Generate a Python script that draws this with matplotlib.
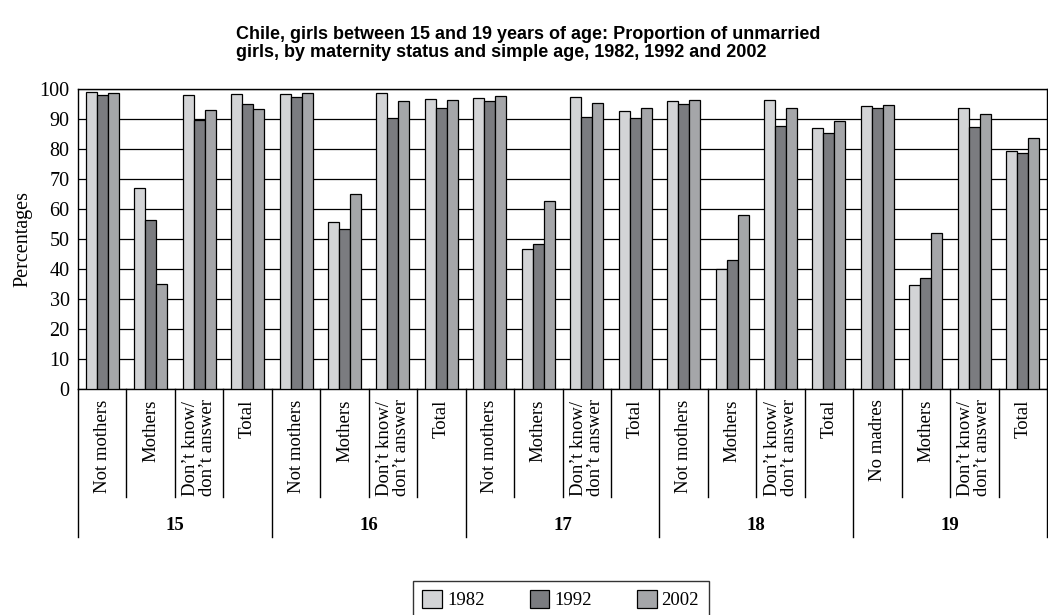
import numpy as np
import matplotlib
matplotlib.use("Agg")
import matplotlib.pyplot as plt
from matplotlib.patches import Patch

ages = ["15", "16", "17", "18", "19"]
statuses = [
    ["Not mothers", "Mothers", "Don\u2019t know/\ndon\u2019t answer", "Total"],
    ["Not mothers", "Mothers", "Don\u2019t know/\ndon\u2019t answer", "Total"],
    ["Not mothers", "Mothers", "Don\u2019t know/\ndon\u2019t answer", "Total"],
    ["Not mothers", "Mothers", "Don\u2019t know/\ndon\u2019t answer", "Total"],
    ["No madres", "Mothers", "Don\u2019t know/\ndon\u2019t answer", "Total"],
]
years = ["1982", "1992", "2002"]

y1982 = [99.1, 66.9, 97.9, 98.2,
         98.4, 55.7, 98.8, 96.7,
         97.1, 46.7, 97.4, 92.7,
         95.9, 40.1, 96.2, 87.1,
         94.2, 34.8, 93.6, 79.2]
y1992 = [97.9, 56.4, 89.7, 95.1,
         97.3, 53.3, 90.4, 93.8,
         96.1, 48.4, 90.8, 90.3,
         94.9, 43.0, 87.8, 85.2,
         93.6, 36.9, 87.3, 78.7]
y2002 = [98.8, 34.9, 93.1, 93.2,
         98.6, 65.1, 96.1, 96.3,
         97.8, 62.8, 95.4, 93.7,
         96.4, 57.9, 93.8, 89.4,
         94.7, 52.0, 91.6, 83.8]

colors = ["#d3d4d6", "#7b7c80", "#a5a6a9"]
serif = "Liberation Serif"
fs = 13.5

fig = plt.figure(figsize=(10.48, 6.15), dpi=100)
ax = fig.add_axes([78 / 1048, 226 / 615, 969 / 1048, 300 / 615])

n = len(y1982)
x = np.arange(n)
w = 0.227
for i, (vals, c) in enumerate(zip([y1982, y1992, y2002], colors)):
    ax.bar(x + (i - 1) * w, vals, w, color=c, edgecolor="black", linewidth=0.9, zorder=3)

ax.set_xlim(-0.5, n - 0.5)
ax.set_ylim(0, 100)
ax.set_yticks(range(0, 101, 10))
ax.yaxis.grid(True, color="black", linewidth=0.9, zorder=0)
ax.set_xticks([])
for s in ax.spines.values():
    s.set_linewidth(1.0)
ax.tick_params(axis="y", length=0, labelsize=14.5, pad=6)
for lab in ax.get_yticklabels():
    lab.set_family(serif)
ax.set_ylabel("Percentages", family=serif, fontsize=14.5, labelpad=5)

# category labels and separators under the axis
trans = ax.get_xaxis_transform()
k = 0
for g, age in enumerate(ages):
    for j, name in enumerate(statuses[g]):
        ax.text(k, -0.035, name, rotation=90, ha="center", va="top",
                family=serif, fontsize=fs, transform=trans, linespacing=1.0)
        k += 1
    ax.text(g * 4 + 1.5, -0.455, age, ha="center", va="center",
            family=serif, fontsize=fs, fontweight="bold", transform=trans)
for b in range(n + 1):
    bottom = -0.493 if b % 4 == 0 else -0.36
    ax.plot([b - 0.5, b - 0.5], [0, bottom], color="black", linewidth=1.0,
            transform=trans, clip_on=False)

fig.text(236 / 1048, 1 - 26 / 615,
         "Chile, girls between 15 and 19 years of age: Proportion of unmarried\n"
         "girls, by maternity status and simple age, 1982, 1992 and 2002",
         ha="left", va="top", fontsize=13, fontweight="bold",
         family="Liberation Sans", linespacing=1.05)

handles = [Patch(facecolor=c, edgecolor="black", linewidth=0.9) for c in colors]
leg = fig.legend(handles, years, loc="upper left",
                 bbox_to_anchor=(413 / 1048, 1 - 581 / 615), ncol=3,
                 prop={"family": serif, "size": fs}, frameon=True, fancybox=False,
                 edgecolor="black", handlelength=1.05, handleheight=1.05,
                 columnspacing=2.4, handletextpad=0.27, borderpad=0.5,
                 borderaxespad=0)
leg.get_frame().set_linewidth(1.0)

fig.savefig("out.png", dpi=100)
